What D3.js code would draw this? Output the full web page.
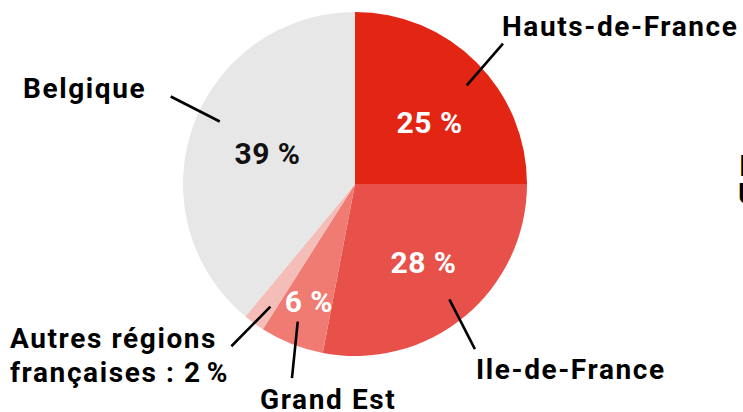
<!DOCTYPE html>
<html>
<head>
<meta charset="utf-8">
<script src="https://cdn.jsdelivr.net/npm/d3@7"></script>
<style>
  body { margin: 0; background: #fff; }
  svg { display: block; font-family: Roboto, "DejaVu Sans", sans-serif; font-weight: 700; }
</style>
</head>
<body>
<div id="chart"></div>
<script>
// slice data, clockwise from 12 o'clock
let regions = ["Hauts-de-France", "Ile-de-France", "Grand Est", "Autres régions", "Belgique"];
let shares = [25, 28, 6, 2, 39];
let colors = ["#e32514", "#e8514a", "#ef7b72", "#f5bdb8", "#e7e7e7"];
let pctLabels = ["25 %", "28 %", "6 %", "", "39 %"];
let nameLines = [["Hauts-de-France"], ["Ile-de-France"], ["Grand Est"], ["Autres régions", "françaises : 2\u202f%"], ["Belgique"]];

// layout tweaks per slice
let pctRadius = [96.6, 103.6, 126.4, 0, 92.9];
let pctShift = [5.5, -1.8, -0.2, 0, -0.2]; // degrees from mid angle
let pctColor = ["#fff", "#fff", "#fff", "#fff", "#111"];
let leaderShift = [[3.6, 1.5], [0.3, 3.6], [1, -3.6], [-1.4, 1.3], [5, 5.6]]; // degrees, inner/outer
let namePos = [[502, 36, "start"], [476, 379, "start"], [260, 409, "start"], [10, 348, "start"], [23, 98, "start"]];

let width = 743, height = 412;
let cx = 355, cy = 184, radius = 172;

let svg = d3.select("#chart").append("svg")
    .attr("width", width)
    .attr("height", height);

let g = svg.append("g").attr("transform", "translate(" + cx + "," + cy + ")");

let pie = d3.pie().sort(null).value(function(d){ return d; });
let arcs = pie(shares);

let arc = d3.arc().innerRadius(0).outerRadius(radius);

g.selectAll("path.slice").data(arcs).enter().append("path")
    .attr("class", "slice")
    .attr("d", arc)
    .style("fill", function(d, i){ return colors[i]; });

function polar(r, a) {
    return [r * Math.sin(a), -r * Math.cos(a)];
}
let deg = Math.PI / 180;

// leader lines
arcs.forEach(function(d, i) {
    let mid = (d.startAngle + d.endAngle) / 2;
    let p1 = polar(149, mid + leaderShift[i][0] * deg);
    let p2 = polar(204, mid + leaderShift[i][1] * deg);
    g.append("line")
        .attr("x1", p1[0]).attr("y1", p1[1])
        .attr("x2", p2[0]).attr("y2", p2[1])
        .style("stroke", "#000")
        .style("stroke-width", 2.6);
});

// percentages inside slices
arcs.forEach(function(d, i) {
    if (!pctLabels[i]) return;
    let mid = (d.startAngle + d.endAngle) / 2;
    let p = polar(pctRadius[i], mid + pctShift[i] * deg);
    g.append("text")
        .attr("x", p[0]).attr("y", p[1])
        .attr("text-anchor", "middle")
        .attr("dy", "0.36em")
        .style("font-size", "30px")
        .style("letter-spacing", "0.5px")
        .style("fill", pctColor[i])
        .text(pctLabels[i]);
});

// region names
nameLines.forEach(function(lines, i) {
    let t = svg.append("text")
        .attr("x", namePos[i][0])
        .attr("y", namePos[i][1])
        .attr("text-anchor", namePos[i][2])
        .style("font-size", "28px")
        .style("letter-spacing", "1.6px")
        .style("fill", "#000");
    lines.forEach(function(l, j) {
        t.append("tspan").attr("x", namePos[i][0]).attr("dy", j === 0 ? 0 : 34).text(l);
    });
});

// text cut off at the right edge
svg.append("text").attr("x", 739).attr("y", 176).style("font-size", "30px").text("I");
svg.append("text").attr("x", 738).attr("y", 204).style("font-size", "30px").text("U");
</script>
</body>
</html>
